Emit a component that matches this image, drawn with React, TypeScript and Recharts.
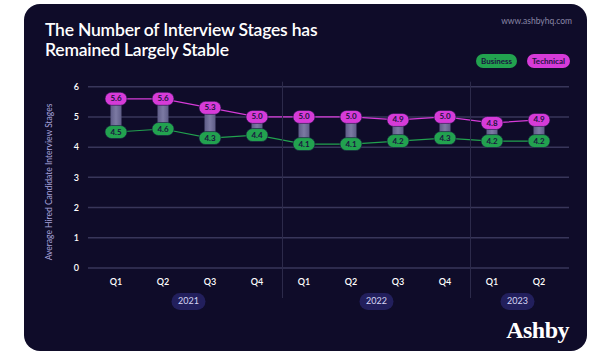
import React from 'react';
import {
  ComposedChart,
  Bar,
  Line,
  XAxis,
  YAxis,
  CartesianGrid,
} from 'recharts';

// quarterly averages
const quarters = ['Q1', 'Q2', 'Q3', 'Q4', 'Q1', 'Q2', 'Q3', 'Q4', 'Q1', 'Q2'];
const years = ['2021', '2022', '2023'];
const yearSizes = [4, 4, 2];
const business = [4.5, 4.6, 4.3, 4.4, 4.1, 4.1, 4.2, 4.3, 4.2, 4.2];
const technical = [5.6, 5.6, 5.3, 5.0, 5.0, 5.0, 4.9, 5.0, 4.8, 4.9];
const yTicks = [0, 1, 2, 3, 4, 5, 6];

const BG = '#0f0c29';
const GREEN = '#22a24f';
const MAGENTA = '#d63bd8';
const FONT = 'Lato, "Open Sans", sans-serif';

// build rows with a year tag so categories stay unique
const yearOf: string[] = [];
years.forEach((y, i) => {
  for (let k = 0; k < yearSizes[i]; k++) yearOf.push(y);
});
const data = quarters.map((q, i) => ({
  key: `${yearOf[i]} ${q}`,
  quarter: q,
  business: business[i],
  technical: technical[i],
}));

const W = 613;
const H = 354;
const PLOT_LEFT = 88;
const PLOT_RIGHT = 569;
const PAD_L = 4.5;
const PAD_R = 6.5;
const BAND = (PLOT_RIGHT - PLOT_LEFT - PAD_L - PAD_R) / data.length;
const PLOT_TOP = 86.7;
const PLOT_BOTTOM = 268;

const groupStarts = yearSizes.map((_, i) => yearSizes.slice(0, i).reduce((a, b) => a + b, 0));

const QuarterTick = (props: any) => {
  const { x, index } = props;
  const g = groupStarts.indexOf(index);
  return (
    <g>
      <text
        x={x}
        y={PLOT_BOTTOM + 15}
        textAnchor="middle"
        dominantBaseline="middle"
        fill="#ffffff"
        fontSize={9}
        fontWeight={600}
        fontFamily={FONT}
      >
        {data[index]?.quarter}
      </text>
      {g > 0 && (
        <line
          x1={x - BAND / 2 + 2}
          x2={x - BAND / 2 + 2}
          y1={PLOT_TOP - 5}
          y2={PLOT_BOTTOM + 30}
          stroke="#2c2a4a"
          strokeWidth={1}
        />
      )}
      {g >= 0 && (() => {
        const cx = x + ((yearSizes[g] - 1) / 2) * BAND + 2;
        return (
          <g>
            <rect x={cx - 17} y={PLOT_BOTTOM + 25} width={34} height={17} rx={8.5} fill="#221f5c" />
            <text
              x={cx}
              y={PLOT_BOTTOM + 34}
              textAnchor="middle"
              dominantBaseline="middle"
              fill="#d6d4f2"
              fontSize={9}
              fontFamily={FONT}
            >
              {years[g]}
            </text>
          </g>
        );
      })()}
    </g>
  );
};

const pillDot = (color: string, field: 'business' | 'technical') => (props: any) => {
  const { cx, cy, payload, index } = props;
  if (cx == null || cy == null) return <g key={`${field}-${index}`} />;
  return (
    <g key={`${field}-${index}`}>
      <rect x={cx - 11} y={cy - 6.5} width={22} height={13} rx={6.5} fill={color} stroke="#1a1440" strokeWidth={0.6} />
      <text
        x={cx}
        y={cy + 0.5}
        textAnchor="middle"
        dominantBaseline="middle"
        fill="#1b1440"
        fontSize={8}
        fontWeight={700}
        fontFamily={FONT}
      >
        {payload[field].toFixed(1)}
      </text>
    </g>
  );
};

const Pill: React.FC<{ color: string; label: string; width: number }> = ({ color, label, width }) => (
  <div
    style={{
      width,
      height: 14,
      borderRadius: 7,
      background: color,
      color: '#1b1440',
      fontSize: 8,
      fontWeight: 700,
      lineHeight: '14px',
      textAlign: 'center',
    }}
  >
    {label}
  </div>
);

export default function App() {
  return (
    <div style={{ position: 'absolute', left: 0, top: 0, width: W, height: H, background: '#ffffff', fontFamily: FONT }}>
      <div
        style={{
          position: 'absolute',
          left: 24,
          top: 4,
          width: 563,
          height: 347,
          borderRadius: 16,
          background: BG,
        }}
      />
      <div
        style={{
          position: 'absolute',
          left: 45,
          top: 20,
          color: '#ffffff',
          fontSize: 17.5,
          fontWeight: 600,
          lineHeight: '20px',
          letterSpacing: -0.2,
        }}
      >
        The Number of Interview Stages has
        <br />
        Remained Largely Stable
      </div>
      <div style={{ position: 'absolute', right: 41, top: 16, color: '#8a87a6', fontSize: 8.5 }}>
        www.ashbyhq.com
      </div>
      <div style={{ position: 'absolute', left: 476, top: 54, display: 'flex', gap: 10 }}>
        <Pill color={GREEN} label="Business" width={41} />
        <Pill color={MAGENTA} label="Technical" width={43} />
      </div>
      <div
        style={{
          position: 'absolute',
          left: 49,
          top: 182,
          transform: 'translate(-50%, -50%) rotate(-90deg)',
          whiteSpace: 'nowrap',
          color: '#a7a3dc',
          fontSize: 8.5,
        }}
      >
        Average Hired Candidate Interview Stages
      </div>
      <div
        style={{
          position: 'absolute',
          right: 44,
          top: 318,
          color: '#ffffff',
          fontFamily: '"Liberation Serif", "DejaVu Serif", serif',
          fontWeight: 700,
          fontSize: 24,
          lineHeight: '24px',
          letterSpacing: -0.5,
        }}
      >
        Ashby
      </div>
      <div style={{ position: 'absolute', left: 0, top: 0 }}>
        <ComposedChart
          width={W}
          height={H}
          data={data}
          margin={{ top: PLOT_TOP, right: W - PLOT_RIGHT, bottom: H - PLOT_BOTTOM - 40, left: PLOT_LEFT - 30 }}
        >
          <defs>
            <linearGradient id="rangeFill" x1="0" y1="0" x2="1" y2="0">
              <stop offset="0%" stopColor="#5e5c86" />
              <stop offset="50%" stopColor="#7c7aa3" />
              <stop offset="100%" stopColor="#5e5c86" />
            </linearGradient>
          </defs>
          <CartesianGrid vertical={false} stroke="#38365a" strokeWidth={1.5} />
          <XAxis
            dataKey="key"
            height={40}
            axisLine={false}
            tickLine={false}
            interval={0}
            padding={{ left: PAD_L, right: PAD_R }}
            tick={<QuarterTick />}
          />
          <YAxis
            width={30}
            domain={[0, 6]}
            ticks={yTicks}
            axisLine={false}
            tickLine={false}
            tickSize={0}
            tickMargin={9}
            tick={{ fill: '#ffffff', fontSize: 9, fontWeight: 600, fontFamily: FONT }}
          />
          <Bar
            dataKey={(d: any) => [d.business, d.technical]}
            barSize={11}
            fill="url(#rangeFill)"
            isAnimationActive={false}
          />
          <Line
            dataKey="technical"
            stroke={MAGENTA}
            strokeWidth={1.2}
            dot={pillDot(MAGENTA, 'technical')}
            activeDot={false}
            isAnimationActive={false}
          />
          <Line
            dataKey="business"
            stroke={GREEN}
            strokeWidth={1.2}
            dot={pillDot(GREEN, 'business')}
            activeDot={false}
            isAnimationActive={false}
          />
        </ComposedChart>
      </div>
    </div>
  );
}
